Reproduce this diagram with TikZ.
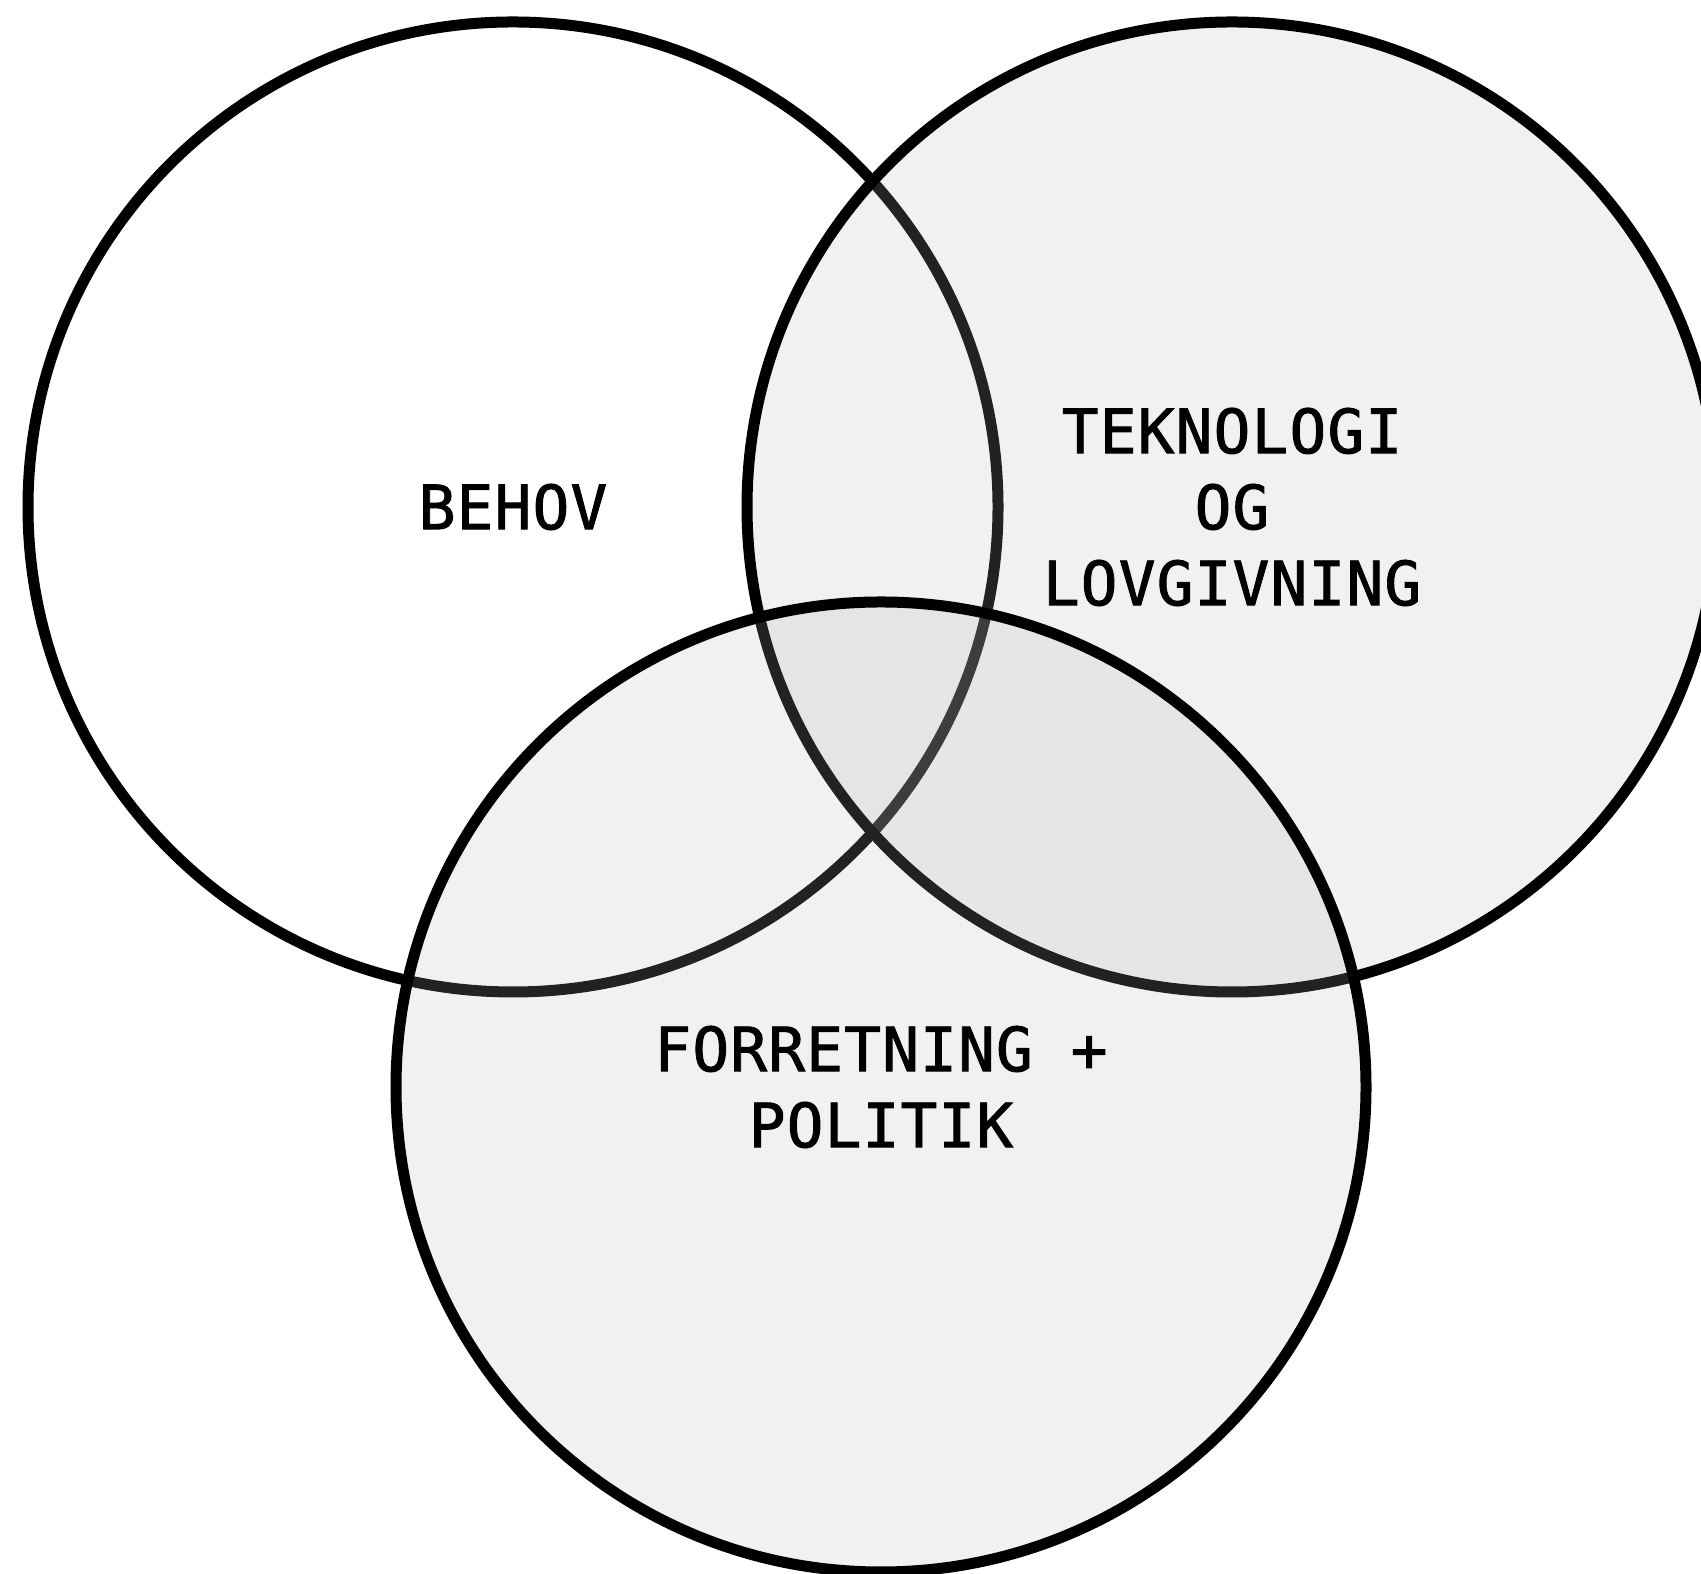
\documentclass[tikz,border=0pt]{standalone}
\usepackage{fontspec}
\usepackage{xcolor}
\usepackage{tikz}
\usetikzlibrary{positioning}

\newfontfamily\vennfont[LetterSpace=2,FakeBold=1.5]{DejaVu Sans Mono}
\definecolor{setshade}{gray}{0.71}

\tikzset{
    set/.style={circle, draw=black, line width=0.11cm, minimum size=9.7cm,
        inner sep=0pt, align=center, text=black, text opacity=1,
        font=\vennfont\fontsize{17.36pt}{21.63pt}\selectfont},
    plain set/.style={set, fill=white},
    shaded set/.style={set, fill=setshade, fill opacity=0.19}
}

\begin{document}
\begin{tikzpicture}
    \useasboundingbox (0,0) rectangle (17.01,15.74);

    \node[plain set] (behov) at (5.13,10.67) {BEHOV};
    \node[shaded set, on grid] (tek) [right=7.19cm of behov] {TEKNOLOGI\\OG\\LOVGIVNING};
    \node[shaded set, on grid] (forr) [below right=5.8cm and 3.68cm of behov] {FORRETNING +\\POLITIK};

\end{tikzpicture}
\end{document}
